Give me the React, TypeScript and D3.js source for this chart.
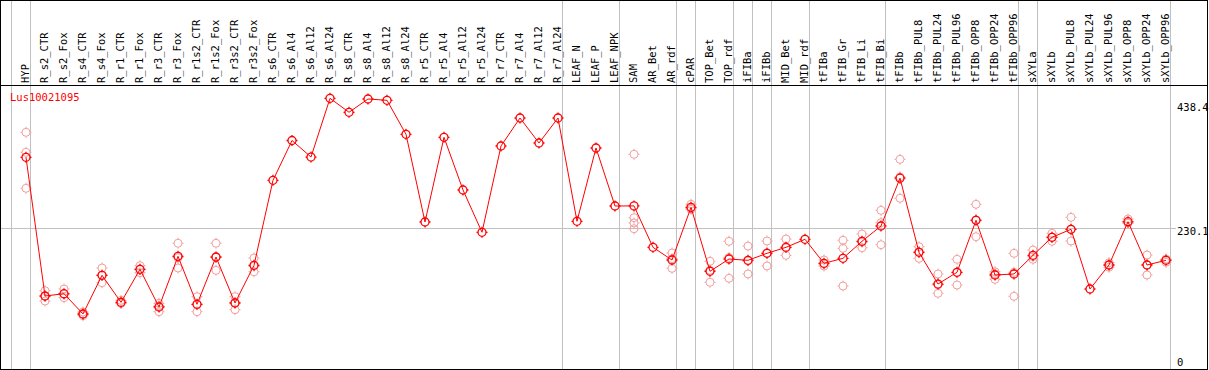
import * as d3 from 'd3';

// expression profile for one gene across samples
const categories = [
  'HYP', 'R_s2_CTR', 'R_s2_Fox', 'R_s4_CTR', 'R_s4_Fox', 'R_r1_CTR', 'R_r1_Fox', 'R_r3_CTR', 'R_r3_Fox',
  'R_r1s2_CTR', 'R_r1s2_Fox', 'R_r3s2_CTR', 'R_r3s2_Fox', 'R_s6_CTR', 'R_s6_Al4', 'R_s6_Al12', 'R_s6_Al24',
  'R_s8_CTR', 'R_s8_Al4', 'R_s8_Al12', 'R_s8_Al24', 'R_r5_CTR', 'R_r5_Al4', 'R_r5_Al12', 'R_r5_Al24',
  'R_r7_CTR', 'R_r7_Al4', 'R_r7_Al12', 'R_r7_Al24', 'LEAF_N', 'LEAF_P', 'LEAF_NPK', 'SAM', 'AR_Bet', 'AR_rdf',
  'cPAR', 'TOP_Bet', 'TOP_rdf', 'iFIBa', 'iFIBb', 'MID_Bet', 'MID_rdf', 'tFIBa', 'tFIB_Gr', 'tFIB_Li', 'tFIB_Bi',
  'tFIBb', 'tFIBb_PUL8', 'tFIBb_PUL24', 'tFIBb_PUL96', 'tFIBb_OPP8', 'tFIBb_OPP24', 'tFIBb_OPP96', 'sXYLa',
  'sXYLb', 'sXYLb_PUL8', 'sXYLb_PUL24', 'sXYLb_PUL96', 'sXYLb_OPP8', 'sXYLb_OPP24', 'sXYLb_OPP96',
];

const means = [
  343.9, 121.6, 125.3, 92.8, 154.8, 111.5, 164.4, 104.0, 185.2,
  108.3, 184.1, 110.4, 170.8, 307.0, 370.8, 344.3, 438.4,
  416.0, 437.3, 435.2, 380.7, 240.2, 375.9, 291.5, 223.7,
  362.0, 406.8, 366.8, 406.8, 241.3, 358.8, 265.8, 266.0, 199.6, 179.3,
  263.7, 161.2, 180.9, 178.8, 190.0, 199.6, 212.5, 174.0, 182.0, 209.3, 233.8,
  310.4, 191.6, 140.8, 159.6, 242.9, 155.3, 156.9, 186.8,
  215.7, 228.5, 132.8, 171.3, 240.7, 171.3, 178.8,
];

const replicates: number[][] = [
  [383.9, 351.9, 294.2], [130.1, 113.6, 121.1], [132.8, 118.9, 124.2], [96.0, 90.0, 92.4], [166.5, 142.9, 155.0],
  [114.7, 109.9, 109.9], [170.2, 158.9, 164.1], [109.9, 96.5, 105.6], [206.1, 166.5, 183.0],
  [120.5, 96.5, 107.9], [206.1, 162.8, 183.4], [120.5, 99.7, 111.0], [182.5, 160.5, 169.4],
  [], [], [], [], [], [], [], [], [], [], [], [], [], [], [], [], [], [], [],
  [348.7, 247.1, 238.6, 229.4], [], [190.5, 166.0, 181.4],
  [268.5, 260.5, 262.0], [177.2, 143.6, 162.8], [209.3, 150.0, 183.4], [201.7, 156.9, 177.8],
  [209.7, 169.7, 190.6], [212.9, 186.8, 199.1], [], [179.3, 169.7, 173.0], [210.9, 198.0, 137.6],
  [221.0, 199.0, 207.9], [258.9, 239.1, 203.8],
  [340.6, 278.2, 312.4], [200.6, 182.0, 192.2], [156.9, 125.9, 139.6], [180.4, 139.2, 159.2],
  [268.5, 216.6, 243.6], [160.5, 148.4, 157.0], [190.0, 121.1, 159.6], [195.3, 180.4, 184.7],
  [222.1, 209.3, 215.7], [247.7, 209.7, 228.1], [], [175.0, 167.6, 171.3], [245.0, 238.5, 238.6],
  [187.3, 155.3, 171.3], [180.4, 175.6, 180.4],
];

// separators are drawn after these samples
const groupEnds = [
  'HYP', 'R_r7_Al24', 'LEAF_NPK', 'AR_rdf', 'cPAR', 'TOP_rdf', 'iFIBa', 'iFIBb',
  'MID_rdf', 'tFIB_Bi', 'tFIBb_OPP96', 'sXYLa', 'sXYLb_OPP96',
];

const yTicks = [0, 230.1, 438.4];
const geneId = 'Lus10021095';

const W = 1209;
const H = 370;
const headerY = 85.5;
const bottom = 369.5;
const font = "'DejaVu Sans Mono', monospace";

function Marker({ x, y, color, sw }: { x: number; y: number; color: string; sw: number }) {
  const r = 4;
  const t = 5.5;
  return (
    <g stroke={color} strokeWidth={sw} fill="none">
      <circle cx={x} cy={y} r={r} />
      <line x1={x} y1={y - r} x2={x} y2={y - t} />
      <line x1={x} y1={y + r} x2={x} y2={y + t} />
      <line x1={x - r} y1={y} x2={x - t} y2={y} />
      <line x1={x + r} y1={y} x2={x + t} y2={y} />
    </g>
  );
}

export default function App() {
  const x = d3.scalePoint<string>().domain(categories).range([26, 1166]);
  const step = x.step();
  const y = d3.scaleLinear().domain([0, 438.4]).range([371.9, 98.3]);

  const line = d3.line<number>()
    .x((_, i) => x(categories[i])!)
    .y(d => y(d));

  const seps = [x(categories[0])! - step + 4, ...groupEnds.map(c => x(c)! + 4)];

  return (
    <svg width={W} height={H} style={{ position: 'absolute', left: 0, top: 0, background: '#fff' }}>
      {/* grid */}
      {seps.map((sx, i) => (
        <line key={i} x1={Math.round(sx) + 0.5} x2={Math.round(sx) + 0.5} y1={0} y2={bottom} stroke="#c0c0c0" />
      ))}
      <line x1={0} x2={1176} y1={Math.round(y(230.1)) + 0.5} y2={Math.round(y(230.1)) + 0.5} stroke="#c0c0c0" />

      {/* frame */}
      <rect x={0.5} y={0.5} width={1207} height={bottom - 0.5} fill="none" stroke="#000" />
      <line x1={0} x2={1208} y1={headerY} y2={headerY} stroke="#000" />

      {/* column labels */}
      {categories.map(c => {
        const lx = x(c)! + 3;
        return (
          <text key={c} x={lx} y={83} transform={`rotate(-90, ${lx}, 83)`}
            fontFamily={font} fontSize={10.5} fill="#000">{c}</text>
        );
      })}

      {/* y labels */}
      {yTicks.map(v => {
        const ty = Math.min(Math.max(y(v) + 7, 111), 365.5);
        return (
          <text key={v} x={1177} y={ty} fontFamily={font} fontSize={10.5} fill="#000">{v}</text>
        );
      })}

      <text x={10} y={101} fontFamily={font} fontSize={10.5} fill="#ff0000">{geneId}</text>

      {/* replicates */}
      {replicates.map((reps, i) =>
        reps.map((v, j) => (
          <Marker key={`${i}-${j}`} x={x(categories[i])!} y={y(v)} color="#f2a0a0" sw={1} />
        ))
      )}

      <path d={line(means) ?? ''} fill="none" stroke="#ff0000" strokeWidth={1} />

      {means.map((v, i) => (
        <Marker key={i} x={x(categories[i])!} y={y(v)} color="#ff0000" sw={1.3} />
      ))}
    </svg>
  );
}
